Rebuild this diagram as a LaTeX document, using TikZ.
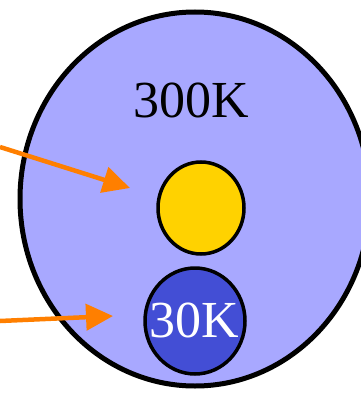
\documentclass[tikz,border=0pt]{standalone}
\usepackage{fontspec}
\setmainfont{Liberation Serif}
\usepackage{tikz}
\usetikzlibrary{arrows.meta}
\usepackage{xcolor}

\definecolor{cellblue}{HTML}{A8A8FF}
\definecolor{coreyellow}{HTML}{FFD200}
\definecolor{coldblue}{HTML}{434ED5}
\definecolor{arroworange}{HTML}{FF7F00}

\begin{document}
\begin{tikzpicture}[x=1pt, y=-1pt,
    pointer/.style={arroworange, line width=4.5pt, -{Triangle[length=27pt, width=26pt]}},
    templabel/.style={font=\fontsize{52}{52}\selectfont, inner sep=0pt}]
    \useasboundingbox (0,0) rectangle (360,393);

    % --- 1. THE OUTER 300K VESSEL ---
    \draw[fill=cellblue, line width=5pt] (195,199) ellipse [x radius=175, y radius=187];
    \node[templabel] (warm) at (191,100) {300K};

    % --- 2. THE TWO INNER BALLS ---
    % yellow one, then the cold one with its label
    \draw[fill=coreyellow, line width=3.5pt] (201,208) ellipse [x radius=43, y radius=46];
    \draw[fill=coldblue, line width=3.5pt] (195,321) ellipse [x radius=50, y radius=53];
    \node[templabel, text=white] (cold) at (194,320) {30K};

    % --- 3. ORANGE POINTERS ---
    \coordinate (upperfrom) at (0,147);
    \coordinate (upperto) at (130,188);
    \coordinate (lowerfrom) at (0,321);
    \coordinate (lowerto) at (113,316);
    \draw[pointer] (upperfrom) -- (upperto);
    \draw[pointer] (lowerfrom) -- (lowerto);

\end{tikzpicture}
\end{document}
